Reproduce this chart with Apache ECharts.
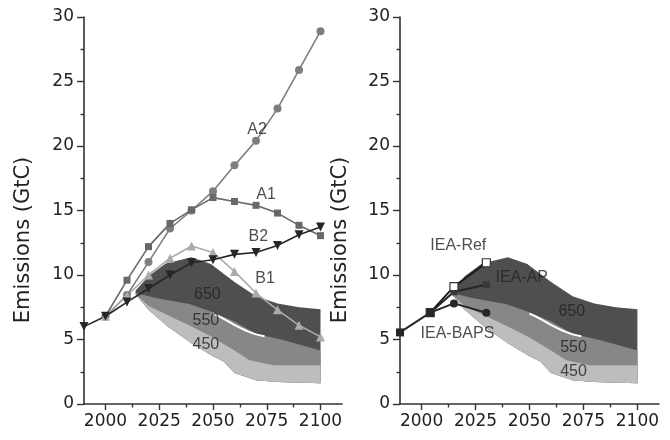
<!DOCTYPE html>
<html><head><meta charset="utf-8">
<script src="https://cdn.jsdelivr.net/npm/echarts@6/dist/echarts.min.js"></script>
<style>html,body{margin:0;padding:0;background:#fff}#c{width:670px;height:440px}</style>
</head><body><div id="c"></div>
<script>
// ---- tick labels ----
const xTickLabels = [2000, 2025, 2050, 2075, 2100];
const xMinorTicks = [2012.5, 2037.5, 2062.5, 2087.5];
const yTickInterval = 5;

// ---- left panel: SRES scenarios ----
const sresYears = [2000, 2010, 2020, 2030, 2040, 2050, 2060, 2070, 2080, 2090, 2100];
const a2 = [6.8, 8.45, 11.0, 13.6, 15.0, 16.5, 18.5, 20.4, 22.9, 25.9, 28.9];
const a1 = [6.8, 9.6, 12.2, 14.0, 15.05, 16.0, 15.7, 15.4, 14.8, 13.85, 13.05];
const b1 = [6.8, 8.4, 10.0, 11.3, 12.25, 11.75, 10.28, 8.6, 7.3, 6.1, 5.2];
const b2Years = [1990, 2000, 2010, 2020, 2030, 2040, 2050, 2060, 2070, 2080, 2090, 2100];
const b2 = [6.0, 6.8, 7.9, 8.95, 10.0, 10.95, 11.18, 11.6, 11.75, 12.28, 13.12, 13.72];

// ---- right panel: IEA scenarios ----
const histYears = [1990, 2004];
const hist = [5.55, 7.08];
const ieaYears = [2004, 2015, 2030];
const ieaRef = [7.08, 9.1, 10.95];
const ieaAP = [7.08, 8.7, 9.25];
const ieaBAPS = [7.08, 7.8, 7.07];

// ---- stabilisation bands (shared by both panels) ----
const top650Years = [2014, 2020, 2028, 2040, 2049, 2060, 2070, 2080, 2090, 2100];
const top650 = [8.8, 9.9, 10.9, 11.37, 10.85, 9.45, 8.35, 7.8, 7.5, 7.35];
const top550Years = [2014, 2024, 2039, 2050, 2060, 2070, 2083, 2100];
const top550 = [8.6, 8.2, 7.75, 7.12, 6.4, 5.45, 4.95, 4.15];
const top450Years = [2014, 2020, 2030, 2040, 2050, 2060, 2067, 2078, 2100];
const top450 = [8.5, 7.6, 6.8, 6.0, 5.15, 4.15, 3.4, 3.0, 3.0];
const bottomYears = [2014, 2020, 2029, 2040, 2050, 2055, 2060, 2070, 2080, 2100];
const bottom = [8.5, 7.3, 6.0, 4.7, 3.7, 3.3, 2.4, 1.85, 1.7, 1.6];
const sliverYears = [2050, 2055, 2060, 2065, 2070, 2074];
const sliver = [7.0, 6.6, 6.12, 5.72, 5.4, 5.26];

// ---- text labels ----
const leftLabelText = ['A2', 'A1', 'B2', 'B1', '650', '550', '450'];
const leftLabelX = [2070.5, 2074.7, 2071.1, 2074.2, 2047.4, 2046.7, 2046.7];
const leftLabelY = [21.24, 16.2, 12.97, 9.74, 8.45, 6.43, 4.57];
const rightLabelText = ['IEA-Ref', 'IEA-AP', 'IEA-BAPS', '650', '550', '450'];
const rightLabelX = [2017.0, 2046.4, 2016.6, 2069.6, 2070.4, 2070.4];
const rightLabelY = [12.25, 9.82, 5.48, 7.16, 4.39, 2.5];

const zip = (xs, ys) => xs.map((x, i) => [x, ys[i]]);
const AX = '#333';
const TICKFONT = {fontFamily: 'DejaVu Sans', fontSize: 17, color: '#222'};

function mainX(grid) {
  return {type: 'value', gridIndex: grid, min: 1990, max: 2110, position: 'bottom',
    axisLine: {show: true, onZero: false, lineStyle: {color: AX, width: 1.6}},
    axisTick: {show: true, customValues: xTickLabels, length: 6, lineStyle: {color: AX, width: 1.4}},
    axisLabel: Object.assign({customValues: xTickLabels, margin: 9, formatter: v => String(v)}, TICKFONT),
    splitLine: {show: false}};
}
function minorX(grid) {
  return {type: 'value', gridIndex: grid, min: 1990, max: 2110, position: 'bottom',
    axisLine: {show: false, onZero: false},
    axisTick: {show: true, customValues: xMinorTicks, length: 3.5, lineStyle: {color: AX, width: 1.4}},
    axisLabel: {show: false}, splitLine: {show: false}};
}
function yAx(grid) {
  return {type: 'value', gridIndex: grid, min: 0, max: 30, interval: yTickInterval,
    axisLine: {show: true, lineStyle: {color: AX, width: 1.6}},
    axisTick: {show: true, length: 7, lineStyle: {color: AX, width: 1.4}},
    minorTick: {show: true, splitNumber: 2, length: 3.5, lineStyle: {color: AX, width: 1.4}},
    axisLabel: Object.assign({margin: 10}, TICKFONT),
    splitLine: {show: false}, minorSplitLine: {show: false}};
}

function band(xi, yi, upX, upY, loX, loY, color) {
  return {type: 'custom', xAxisIndex: xi, yAxisIndex: yi, z: 1, silent: true,
    data: [[upX[0], upY[0]]],
    renderItem: function (params, api) {
      const pts = [];
      for (let i = 0; i < upX.length; i++) pts.push(api.coord([upX[i], upY[i]]));
      for (let i = loX.length - 1; i >= 0; i--) pts.push(api.coord([loX[i], loY[i]]));
      return {type: 'polygon', shape: {points: pts}, style: {fill: color}};
    }};
}
function bands(xi, yi) {
  return [
    band(xi, yi, top650Years, top650, bottomYears, bottom, '#4f4f4f'),
    band(xi, yi, top550Years, top550, bottomYears, bottom, '#878787'),
    band(xi, yi, top450Years, top450, bottomYears, bottom, '#bdbdbd'),
    {type: 'line', xAxisIndex: xi, yAxisIndex: yi, z: 1, silent: true, symbol: 'none', smooth: true,
      data: zip(sliverYears, sliver), lineStyle: {color: '#fff', width: 2}}
  ];
}
function lineS(xi, yi, xs, ys, color, symbol, size, extra) {
  return Object.assign({type: 'line', xAxisIndex: xi, yAxisIndex: yi, z: 3, silent: true,
    data: zip(xs, ys), symbol: symbol, symbolSize: size, showSymbol: true,
    lineStyle: {color: color, width: 1.6}, itemStyle: {color: color, borderWidth: 0}}, extra || {});
}
function labels(xi, yi, txt, xs, ys) {
  return {type: 'scatter', xAxisIndex: xi, yAxisIndex: yi, z: 5, silent: true, symbolSize: 0,
    data: txt.map((t, i) => ({name: t, value: [xs[i], ys[i]]})),
    label: {show: true, position: 'inside', formatter: p => p.name,
      fontFamily: 'Liberation Sans', fontSize: 16, color: '#222'}};
}

const chart = echarts.init(document.getElementById('c'), null, {renderer: 'canvas'});
chart.setOption({
  animation: false,
  backgroundColor: '#fff',
  grid: [
    {left: 84, top: 17, width: 258, height: 387},
    {left: 400, top: 17, width: 259, height: 387}
  ],
  xAxis: [mainX(0), minorX(0), mainX(1), minorX(1)],
  yAxis: [yAx(0), yAx(1)],
  graphic: [
    {type: 'text', x: 24, y: 240, rotation: Math.PI / 2,
      style: {text: 'Emissions (GtC)', fontFamily: 'DejaVu Sans', fontSize: 21, fill: '#222', align: 'center', verticalAlign: 'middle'}},
    {type: 'text', x: 341, y: 240, rotation: Math.PI / 2,
      style: {text: 'Emissions (GtC)', fontFamily: 'DejaVu Sans', fontSize: 21, fill: '#222', align: 'center', verticalAlign: 'middle'}}
  ],
  series: [
    ...bands(0, 0),
    lineS(0, 0, sresYears, a2, '#7e7e7e', 'circle', 8),
    lineS(0, 0, sresYears, a1, '#686868', 'rect', 7),
    lineS(0, 0, sresYears, b1, '#ababab', 'triangle', 9),
    lineS(0, 0, b2Years, b2, '#262626', 'triangle', 9, {symbolRotate: 180}),
    labels(0, 0, leftLabelText, leftLabelX, leftLabelY),

    ...bands(2, 1),
    lineS(2, 1, ieaYears, ieaBAPS, '#262626', 'circle', 8, {lineStyle: {color: '#262626', width: 2}}),
    lineS(2, 1, ieaYears, ieaAP, '#3a3a3a', 'rect', 7, {lineStyle: {color: '#262626', width: 2}}),
    lineS(2, 1, ieaYears, ieaRef, '#262626', 'rect', 8, {lineStyle: {color: '#1a1a1a', width: 2},
      itemStyle: {color: '#fff', borderColor: '#333', borderWidth: 1.2}}),
    lineS(2, 1, histYears, hist, '#262626', 'rect', 8, {lineStyle: {color: '#262626', width: 2}}),
    labels(2, 1, rightLabelText, rightLabelX, rightLabelY)
  ]
});
</script></body></html>
